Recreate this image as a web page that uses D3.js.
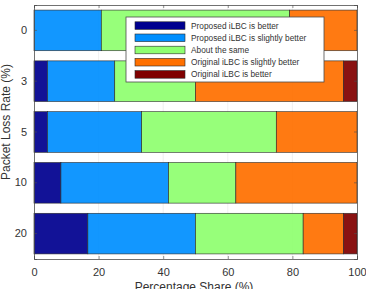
<!DOCTYPE html>
<html>
<head>
<meta charset="utf-8">
<script src="https://cdnjs.cloudflare.com/ajax/libs/d3/7.8.5/d3.min.js"></script>
<style>
    html, body { margin: 0; padding: 0; background: #fff; }
    svg { display: block; font-family: "Liberation Sans", Arial, sans-serif; }
</style>
</head>
<body>
<svg id="chart" width="366" height="289"></svg>
<script>
/** data */
var lossRates = [ '0', '3', '5', '10', '20' ];
var seriesNames = [ 'Proposed iLBC is better', 'Proposed iLBC is slightly better', 'About the same',
                    'Original iLBC is slightly better', 'Original iLBC is better' ];
var proposedBetter  = [ 0,     4.17,  4.17,  8.33,  16.67 ];
var proposedSlight  = [ 20.83, 20.83, 29.17, 33.33, 33.33 ];
var aboutSame       = [ 58.33, 25,    41.67, 20.83, 33.33 ];
var originalSlight  = [ 20.83, 45.83, 25,    37.5,  12.5  ];
var originalBetter  = [ 0,     4.17,  0,     0,     4.17  ];
var xTicks = [ 0, 20, 40, 60, 80, 100 ];
var colors = [ '#00008f', '#008fff', '#8fff70', '#ff7000', '#800000' ];

var series = [ proposedBetter, proposedSlight, aboutSame, originalSlight, originalBetter ];

var margin = { left: 34, right: 9, top: 5, bottom: 30 };
var svg = d3.select( '#chart' );
var width = 366 - margin.left - margin.right;
var height = 289 - margin.top - margin.bottom;
var g = svg.append( 'g' ).attr( 'transform', 'translate(' + margin.left + ',' + margin.top + ')' );

var x = d3.scaleLinear().domain( [ 0, 100 ] ).range( [ 0, width ] );
var y = d3.scaleBand().domain( lossRates ).range( [ 0, height ] ).paddingInner( 0.2 ).paddingOuter( 0.1 );

// grid
g.selectAll( '.grid' ).data( xTicks.slice( 1, -1 ) ).enter().append( 'line' )
    .attr( 'x1', function( d ) { return x( d ); } ).attr( 'x2', function( d ) { return x( d ); } )
    .attr( 'y1', 0 ).attr( 'y2', height )
    .attr( 'stroke', '#e6e6e6' ).attr( 'stroke-width', 0.6 );

// stacked bars
var rows = lossRates.map( function( rate, i ) {
    var row = { rate: rate };
    seriesNames.forEach( function( name, k ) { row[ name ] = series[ k ][ i ]; } );
    return row;
});
var stacked = d3.stack().keys( seriesNames )( rows );
g.selectAll( '.layer' ).data( stacked ).enter().append( 'g' )
    .attr( 'fill', function( d, k ) { return colors[ k ]; } )
    .attr( 'fill-opacity', 0.93 )
    .selectAll( 'rect' ).data( function( d ) { return d.filter( function( s ) { return s[ 1 ] > s[ 0 ]; } ); } )
    .enter().append( 'rect' )
    .attr( 'x', function( d ) { return x( d[ 0 ] ); } )
    .attr( 'width', function( d ) { return x( d[ 1 ] ) - x( d[ 0 ] ); } )
    .attr( 'y', function( d ) { return y( d.data.rate ); } )
    .attr( 'height', y.bandwidth() )
    .attr( 'stroke', '#2a2a2a' ).attr( 'stroke-width', 0.6 );

// axes
var xAxis = g.append( 'g' ).attr( 'transform', 'translate(0,' + height + ')' )
    .call( d3.axisBottom( x ).tickValues( xTicks ).tickSize( -3 ).tickPadding( 9 ) );
var xTop = g.append( 'g' ).call( d3.axisTop( x ).tickValues( xTicks ).tickSize( -3 ).tickFormat( '' ) );
var yAxis = g.append( 'g' ).call( d3.axisLeft( y ).tickSize( -3 ).tickPadding( 7 ) );
var yRight = g.append( 'g' ).attr( 'transform', 'translate(' + width + ',0)' )
    .call( d3.axisRight( y ).tickSize( -3 ).tickFormat( '' ) );
[ xAxis, xTop, yAxis, yRight ].forEach( function( a ) {
    a.select( '.domain' ).attr( 'stroke', '#4d4d4d' ).attr( 'stroke-width', 0.8 );
    a.selectAll( '.tick line' ).attr( 'stroke', '#4d4d4d' ).attr( 'stroke-width', 0.6 );
    a.selectAll( 'text' ).attr( 'fill', '#333' ).style( 'font-size', '11px' )
        .style( 'font-family', '"Liberation Sans", Arial, sans-serif' );
});

// axis titles (the bottom one is cut off by the window, as in the original)
svg.append( 'text' ).attr( 'x', 194 ).attr( 'y', 291 )
    .attr( 'text-anchor', 'middle' ).attr( 'fill', '#333' ).style( 'font-size', '12px' )
    .text( 'Percentage Share (%)' );
svg.append( 'text' ).attr( 'transform', 'translate(9.5,122) rotate(-90)' )
    .attr( 'text-anchor', 'middle' ).attr( 'fill', '#333' ).style( 'font-size', '12px' )
    .text( 'Packet Loss Rate (%)' );

// legend
var legend = svg.append( 'g' ).attr( 'transform', 'translate(126,17)' );
legend.append( 'rect' ).attr( 'width', 198 ).attr( 'height', 65 )
    .attr( 'fill', '#fff' ).attr( 'stroke', '#4d4d4d' ).attr( 'stroke-width', 0.8 );
var items = legend.selectAll( '.item' ).data( seriesNames ).enter().append( 'g' )
    .attr( 'transform', function( d, k ) { return 'translate(0,' + ( 8.6 + k * 12.2 ) + ')'; } );
items.append( 'rect' ).attr( 'x', 9 ).attr( 'y', -3.8 ).attr( 'width', 50 ).attr( 'height', 7.6 )
    .attr( 'fill', function( d, k ) { return colors[ k ]; } )
    .attr( 'stroke', '#2a2a2a' ).attr( 'stroke-width', 0.6 );
items.append( 'text' ).attr( 'x', 65 ).attr( 'dy', '0.35em' )
    .attr( 'fill', '#333' ).style( 'font-size', '8.3px' )
    .text( function( d ) { return d; } );
</script>
</body>
</html>
